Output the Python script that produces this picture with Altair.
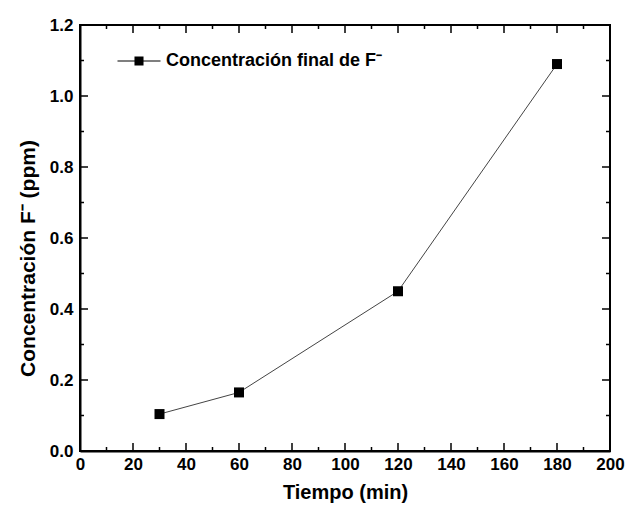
import altair as alt
import pandas as pd

# Measured fluoride concentration over time
tiempo = [30, 60, 120, 180]
concentracion = [0.104, 0.165, 0.45, 1.09]
serie = "Concentración final de F⁻"

# Axis tick positions (inward ticks drawn on all four sides)
x_major = [20, 40, 60, 80, 100, 120, 140, 160, 180]
x_minor = [10, 30, 50, 70, 90, 110, 130, 150, 170, 190]
y_major = [0.2, 0.4, 0.6, 0.8, 1.0]
y_minor = [0.1, 0.3, 0.5, 0.7, 0.9, 1.1]

W, H = 530, 426
FONT = "Liberation Sans"

df = pd.DataFrame({"t": tiempo, "c": concentracion, "serie": [serie] * len(tiempo)})

x_scale = alt.Scale(domain=[0, 200], nice=False, zero=False)
y_scale = alt.Scale(domain=[0, 1.2], nice=False, zero=False)

x_axis = alt.Axis(
    values=list(range(0, 201, 20)), ticks=False, grid=False, domainColor="black",
    domainWidth=2, labelFont=FONT, labelFontSize=17, labelFontWeight="bold",
    labelColor="black", labelPadding=5, labelFlush=False, labelOverlap=False,
    title="Tiempo (min)", titleFont=FONT, titleFontSize=20, titleFontWeight="bold",
    titleColor="black", titlePadding=10,
)
y_axis = alt.Axis(
    values=[0, 0.2, 0.4, 0.6, 0.8, 1.0, 1.2], format=".1f", ticks=False, grid=False,
    domainColor="black", domainWidth=2, labelFont=FONT, labelFontSize=17,
    labelFontWeight="bold", labelColor="black", labelPadding=7, labelFlush=False,
    labelOverlap=False, title="Concentración F⁻ (ppm)", titleFont=FONT,
    titleFontSize=21, titleFontWeight="bold", titleColor="black", titlePadding=11,
    titleY=233,
)

line = alt.Chart(df).mark_line(color="#444", strokeWidth=1).encode(
    x=alt.X("t:Q", scale=x_scale, axis=x_axis),
    y=alt.Y("c:Q", scale=y_scale, axis=y_axis),
)

legend_symbol = (
    "M-1,-0.022H-0.2V0.022H-1Z "
    "M0.2,-0.022H1V0.022H0.2Z "
    "M-0.21,-0.21H0.21V0.21H-0.21Z"
)

points = alt.Chart(df).mark_point(shape="square", size=100, filled=True, opacity=1).encode(
    x=alt.X("t:Q", scale=x_scale),
    y=alt.Y("c:Q", scale=y_scale),
    color=alt.Color(
        "serie:N",
        scale=alt.Scale(domain=[serie], range=["black"]),
        legend=alt.Legend(
            title=None, orient="none", legendX=37, legendY=14, padding=0,
            symbolType=legend_symbol, symbolSize=1850, symbolStrokeWidth=0,
            symbolFillColor="black", labelFont=FONT, labelFontSize=18,
            labelFontWeight="bold", labelColor="black", labelOffset=5,
            labelLimit=400,
        ),
    ),
)


def x_ticks(values, length):
    d = pd.DataFrame({"v": values})
    bottom = alt.Chart(d).mark_rule(color="black", strokeWidth=1.5).encode(
        x=alt.X("v:Q", scale=x_scale), y=alt.value(H), y2=alt.value(H - length))
    top = alt.Chart(d).mark_rule(color="black", strokeWidth=1.5).encode(
        x=alt.X("v:Q", scale=x_scale), y=alt.value(0), y2=alt.value(length))
    return bottom + top


def y_ticks(values, length):
    d = pd.DataFrame({"v": values})
    left = alt.Chart(d).mark_rule(color="black", strokeWidth=1.5).encode(
        y=alt.Y("v:Q", scale=y_scale), x=alt.value(0), x2=alt.value(length))
    right = alt.Chart(d).mark_rule(color="black", strokeWidth=1.5).encode(
        y=alt.Y("v:Q", scale=y_scale), x=alt.value(W), x2=alt.value(W - length))
    return left + right


chart = alt.layer(
    x_ticks(x_major, 8), x_ticks(x_minor, 4), y_ticks(y_major, 8), y_ticks(y_minor, 4),
    line, points,
).properties(
    width=W, height=H,
    autosize=alt.AutoSizeParams(type="none"),
    padding={"left": 80, "top": 25, "right": 16, "bottom": 63},
    background="white",
).configure_view(stroke="black", strokeWidth=2)

chart.save("out.html", embed_options={"renderer": "svg", "actions": False})
